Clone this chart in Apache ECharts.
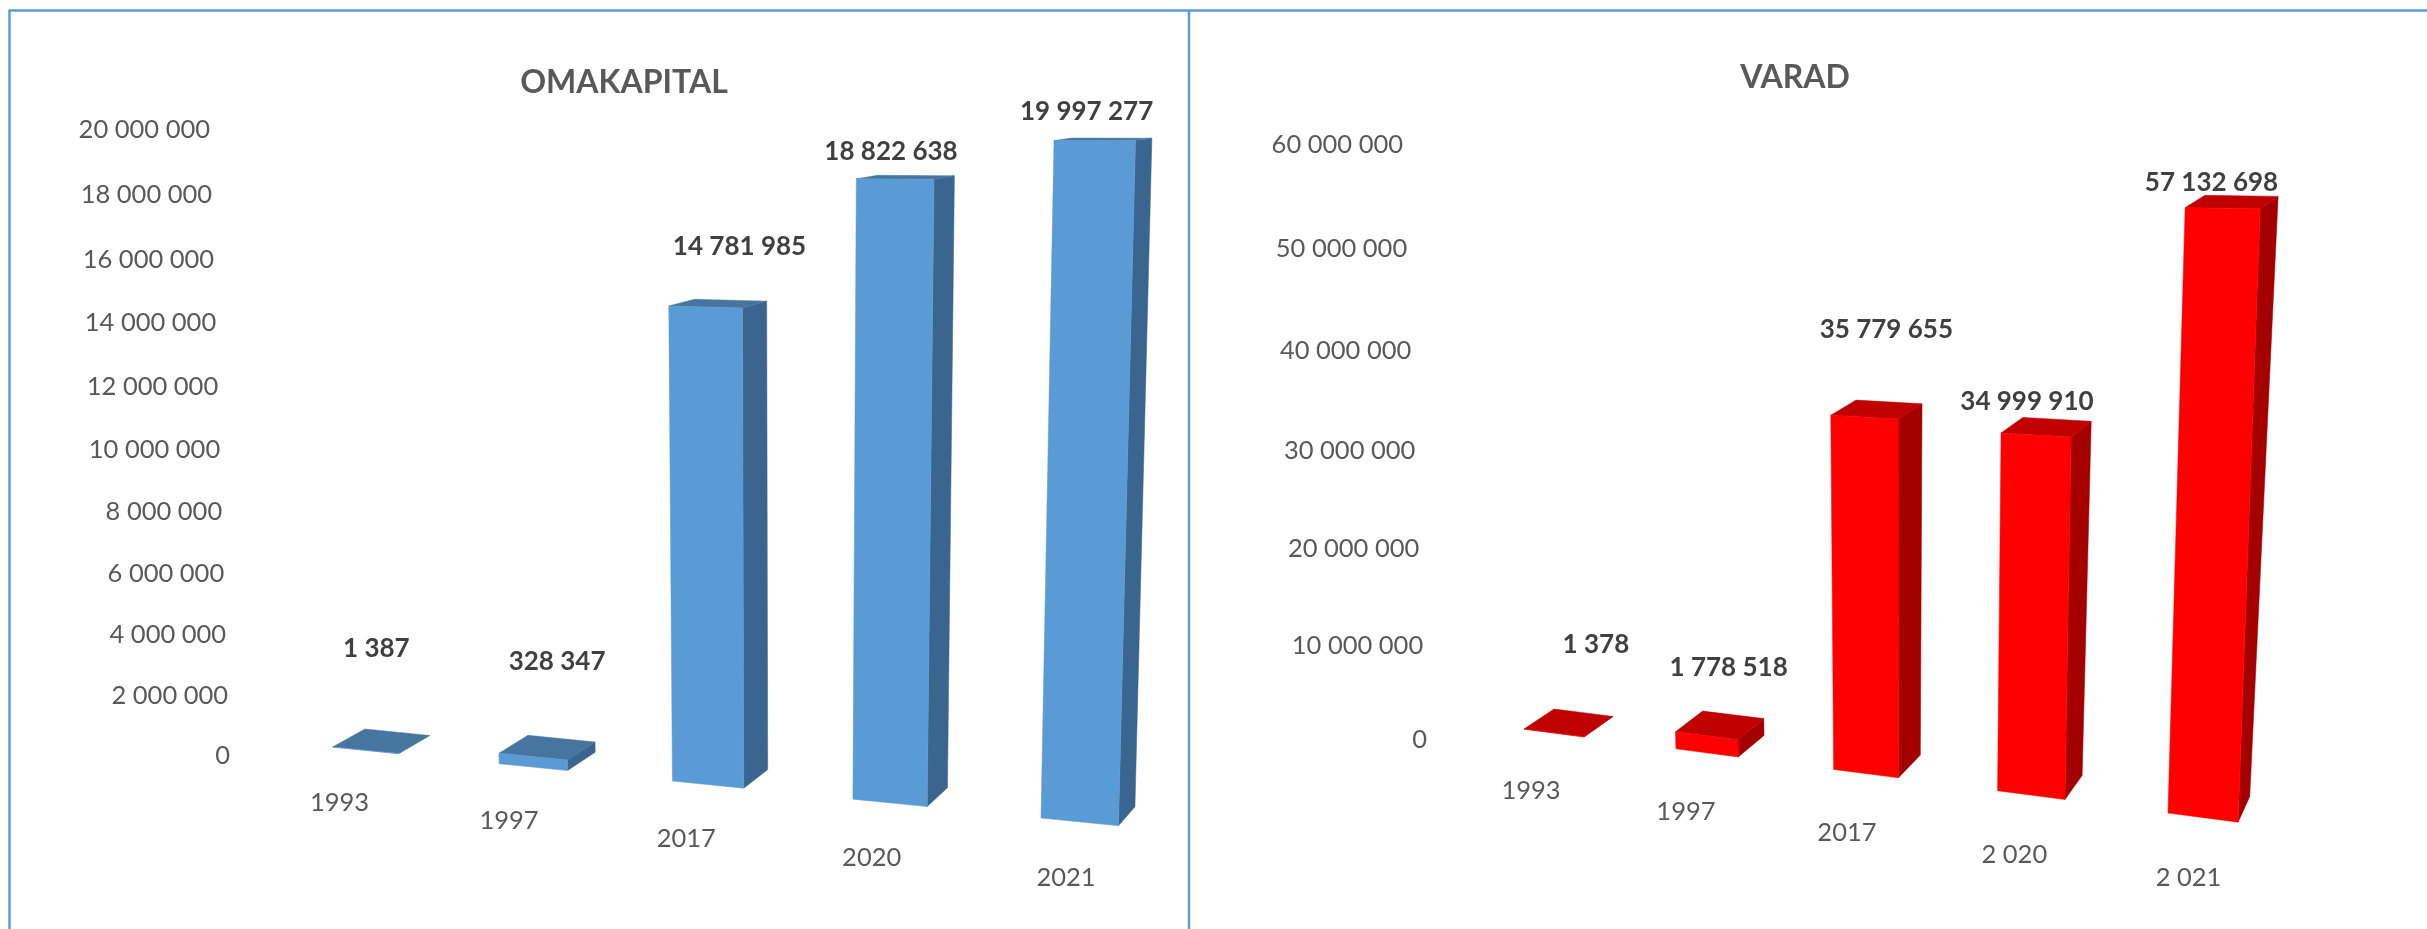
<!DOCTYPE html>
<html>
<head>
<meta charset="utf-8">
<style>html,body{margin:0;padding:0;background:#fff}#c{width:2427px;height:929px}</style>
<script src="https://cdn.jsdelivr.net/npm/echarts@6/dist/echarts.min.js"></script>
</head>
<body>
<div id="c"></div>
<script>
// ---------- data ----------
const titleLeft = 'OMAKAPITAL';
const titleRight = 'VARAD';
const categoriesLeft = ['1993', '1997', '2017', '2020', '2021'];
const categoriesRight = ['1993', '1997', '2017', '2 020', '2 021'];
const valuesLeft = [1387, 328347, 14781985, 18822638, 19997277];
const valuesRight = [1378, 1778518, 35779655, 34999910, 57132698];
const ticksLeft = [0, 2000000, 4000000, 6000000, 8000000, 10000000, 12000000, 14000000, 16000000, 18000000, 20000000];
const ticksRight = [0, 10000000, 20000000, 30000000, 40000000, 50000000, 60000000];

// ---------- layout of the two perspective views (no data here) ----------
const viewLeft = {
  max: 20000000, grid: {left: 230, top: 130, width: 950, height: 625},
  front: [[332.6, 747], [1041, 818], [1054, 140.5], [313, 140.5]],
  back: [[365, 729], [1059, 799], [1072, 138], [346, 137.5]],
  warpU: 1.03, warpV: 1.06,
  tickLine: {from: [230, 756], to: [210, 130], w: 0.96},
  catLine: {from: [339.5, 803], to: [1066, 878], w: 0.913},
  labelShift: [[11, -102], [24, -95], [34, -60], [-4, -27], [-8, -29]],
  colors: {front: '#5B9BD5', side: '#3A658E', top: '#46769F'}
};
const viewRight = {
  max: 60000000, grid: {left: 1427, top: 145, width: 800, height: 595},
  front: [[1524, 729], [2168, 813], [2186, 177], [1501, 172]],
  back: [[1554, 709], [2182, 788], [2206, 165], [1531, 159]],
  warpU: 1.058, warpV: 1.06,
  tickLine: {from: [1427, 740], to: [1403, 145], w: 0.944},
  catLine: {from: [1531, 791], to: [2188.5, 878], w: 0.925},
  labelShift: [[42, -88], [22, -68], [22, -87], [-9, -33], [-11, -26]],
  colors: {front: '#FF0000', side: '#A40000', top: '#C00000'}
};
const FONT = 'Lato';
const BAR_START = 0.3, BAR_END = 0.7, LAST = categoriesLeft.length - 1;

function homography(q) {
  const [[x0, y0], [x1, y1], [x2, y2], [x3, y3]] = q;
  const dx1 = x1 - x2, dx2 = x3 - x2, sx = x0 - x1 + x2 - x3;
  const dy1 = y1 - y2, dy2 = y3 - y2, sy = y0 - y1 + y2 - y3;
  const den = dx1 * dy2 - dx2 * dy1;
  const g = (sx * dy2 - dx2 * sy) / den, h = (dx1 * sy - sx * dy1) / den;
  const a = x1 - x0 + g * x1, b = x3 - x0 + h * x3;
  const d = y1 - y0 + g * y1, e = y3 - y0 + h * y3;
  return (s, t) => {
    const w = g * s + h * t + 1;
    return [(a * s + b * t + x0) / w, (d * s + e * t + y0) / w];
  };
}
function warp(t, k) { return t * k / (1 + (k - 1) * t); }
function along(line, t) {
  const k = warp(t, line.w);
  return [line.from[0] + (line.to[0] - line.from[0]) * k,
          line.from[1] + (line.to[1] - line.from[1]) * k];
}
function fmt(n) { return String(n).replace(/\B(?=(\d{3})+$)/g, ' '); }

function barRenderer(view) {
  const hF = homography(view.front), hB = homography(view.back);
  const F = (s, t) => hF(warp(s, view.warpU), warp(t, view.warpV));
  const B = (s, t) => hB(warp(s, view.warpU), warp(t, view.warpV));
  return function (params, api) {
    const i = api.value(0), val = api.value(1);
    const r = params.coordSys;
    const p = api.coord([i, val]), band = api.size([1, 0])[0];
    const v = (r.y + r.height - p[1]) / r.height;
    const u = (p[0] - r.x) / band;               // band centre, in band units
    const s0 = (u - 0.5) / LAST;
    const s1 = s0 + (BAR_END - BAR_START) / LAST;
    const poly = (pts, fill) => ({
      type: 'polygon', shape: {points: pts},
      style: {fill: fill, stroke: fill, lineWidth: 0.5}
    });
    const fl0 = F(s0, 0), fr0 = F(s1, 0), fl1 = F(s0, v), fr1 = F(s1, v);
    const br0 = B(s1, 0), bl1 = B(s0, v), br1 = B(s1, v);
    const mid = F((s0 + s1) / 2, v), sh = view.labelShift[i];
    return {
      type: 'group',
      children: [
        poly([fr0, fr1, br1, br0], view.colors.side),
        poly([fl1, fr1, br1, bl1], view.colors.top),
        poly([fl0, fr0, fr1, fl1], view.colors.front),
        {type: 'text', style: {
          x: mid[0] + sh[0], y: mid[1] + sh[1], text: fmt(val),
          font: 'bold 26px ' + FONT, fill: '#404040', align: 'center', verticalAlign: 'middle'
        }}
      ]
    };
  };
}
function tickRenderer(view) {
  return function (params, api) {
    const p = along(view.tickLine, api.value(0) / view.max);
    return {type: 'text', style: {
      x: p[0], y: p[1], text: fmt(api.value(0)),
      font: '25.5px ' + FONT, fill: '#595959', align: 'right', verticalAlign: 'middle'
    }};
  };
}
function catRenderer(view, cats) {
  return function (params, api) {
    const i = api.value(0), p = along(view.catLine, i / LAST);
    return {type: 'text', style: {
      x: p[0], y: p[1], text: cats[i],
      font: '25.5px ' + FONT, fill: '#595959', align: 'center', verticalAlign: 'middle'
    }};
  };
}
function seriesFor(view, idx, values, ticks, cats, name) {
  const base = {type: 'custom', coordinateSystem: 'cartesian2d', xAxisIndex: idx, yAxisIndex: idx, clip: false, silent: true};
  return [
    Object.assign({}, base, {name: name, renderItem: barRenderer(view), encode: {x: 0, y: 1},
      data: values.map((val, i) => [i, val])}),
    Object.assign({}, base, {name: name + ' ticks', renderItem: tickRenderer(view), encode: {y: 0},
      data: ticks.map(t => [t])}),
    Object.assign({}, base, {name: name + ' categories', renderItem: catRenderer(view, cats), encode: {x: 0},
      data: cats.map((c, i) => [i])})
  ];
}
function axes(view, cats) {
  return {
    x: {type: 'category', gridIndex: view === viewLeft ? 0 : 1, data: cats, show: false},
    y: {type: 'value', gridIndex: view === viewLeft ? 0 : 1, min: 0, max: view.max, show: false}
  };
}
const aL = axes(viewLeft, categoriesLeft), aR = axes(viewRight, categoriesRight);
const lineColor = '#5B9BD5';
const chart = echarts.init(document.getElementById('c'));
chart.setOption({
  animation: false,
  backgroundColor: '#fff',
  textStyle: {fontFamily: FONT},
  title: [
    {text: titleLeft, left: 619, top: 78, textAlign: 'center', textVerticalAlign: 'middle',
     textStyle: {fontFamily: FONT, fontSize: 32, fontWeight: 'bold', color: '#595959'}},
    {text: titleRight, left: 1790, top: 73, textAlign: 'center', textVerticalAlign: 'middle',
     textStyle: {fontFamily: FONT, fontSize: 32, fontWeight: 'bold', color: '#595959'}}
  ],
  grid: [viewLeft.grid, viewRight.grid],
  xAxis: [aL.x, aR.x],
  yAxis: [aL.y, aR.y],
  series: [].concat(
    seriesFor(viewLeft, 0, valuesLeft, ticksLeft, categoriesLeft, titleLeft),
    seriesFor(viewRight, 1, valuesRight, ticksRight, categoriesRight, titleRight)
  ),
  graphic: [
    {type: 'line', shape: {x1: 9, y1: 10.5, x2: 2427, y2: 10.5}, style: {stroke: lineColor, lineWidth: 2.5}},
    {type: 'line', shape: {x1: 9.5, y1: 10, x2: 9.5, y2: 929}, style: {stroke: lineColor, lineWidth: 2.5}},
    {type: 'line', shape: {x1: 1189, y1: 10, x2: 1189, y2: 929}, style: {stroke: lineColor, lineWidth: 2.5}}
  ]
});
</script>
</body>
</html>
